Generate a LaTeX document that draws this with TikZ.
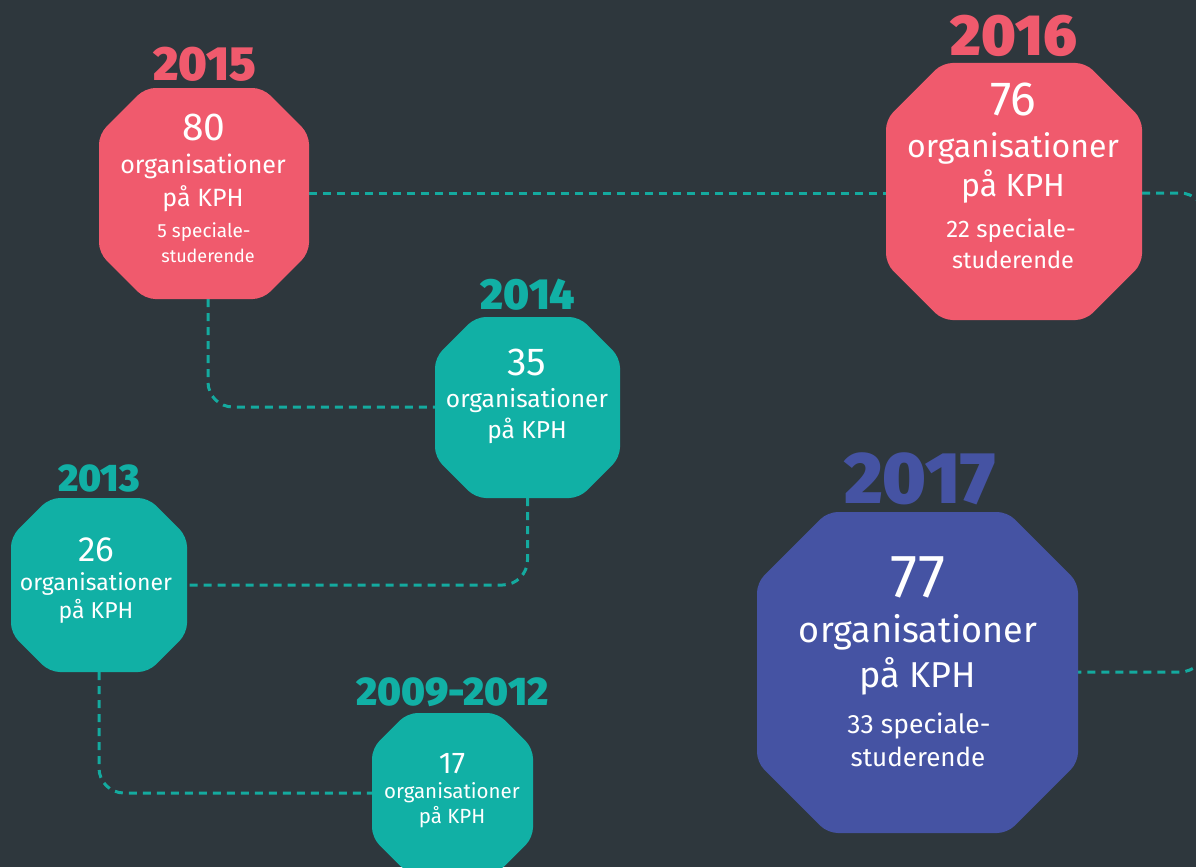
\documentclass[tikz,border=0pt]{standalone}
\usepackage{fontspec}
\setmainfont{Fira Sans}
\newfontfamily\yearfont{Fira Sans Black}
\usetikzlibrary{calc}
\definecolor{bgc}{HTML}{2E373D}
\definecolor{pinkc}{HTML}{F05A6D}
\definecolor{tealc}{HTML}{11B0A5}
\definecolor{linkc}{HTML}{14AA9F}
\definecolor{bluec}{HTML}{4553A3}
\pgfdeclarelayer{back}
\pgfdeclarelayer{links}
\pgfsetlayers{back,links,main}
\newcommand\octo[6]{%
  \node[minimum width=#4pt, minimum height=#5pt, inner sep=0pt, outer sep=0pt] (#1) at (#2,#3) {};
  \pgfmathsetmacro\cc{0.22*#4}
  \fill[#6, rounded corners=10pt] (#1.north) -- ([xshift=-\cc pt]#1.north east) -- ([yshift=-\cc pt]#1.north east) -- ([yshift=\cc pt]#1.south east) -- ([xshift=-\cc pt]#1.south east) -- ([xshift=\cc pt]#1.south west) -- ([yshift=\cc pt]#1.south west) -- ([yshift=-\cc pt]#1.north west) -- ([xshift=\cc pt]#1.north west) -- cycle;
}
\newcommand\fs[1]{\fontsize{#1}{#1}\selectfont}
\tikzset{
  txt/.style={text=white, inner sep=0pt, anchor=base},
  yr/.style={inner sep=0pt, anchor=base},
  link/.style={draw=linkc, line width=3pt, dash pattern=on 8pt off 6pt, rounded corners=25pt},
}
\begin{document}
\begin{tikzpicture}[x=1pt,y=-1pt]
\useasboundingbox (0,0) rectangle (1196,867);
\begin{pgfonlayer}{back}
\fill[bgc] (0,0) rectangle (1196,867);
\end{pgfonlayer}
\clip (0,0) rectangle (1196,867);

% octagons
\octo{n2015}{204}{193.5}{210}{211}{pinkc}
\octo{n2016}{1014}{191.5}{256}{257}{pinkc}
\octo{n2014}{527.5}{407.5}{185}{181}{tealc}
\octo{n2013}{99}{585}{176}{174}{tealc}
\octo{n2009}{452.5}{793}{161}{160}{tealc}
\octo{n2017}{917.5}{672.5}{321}{321}{bluec}

% connectors
\begin{pgfonlayer}{links}
\draw[link] (n2015.east |- 0,193) -- (n2016.west |- 0,193);
\draw[link] (n2016.east |- 0,193) -- (1205,193) -- (1205,672) -- (n2017.east |- 0,672);
\draw[link] (208,299) -- (208,407) -- (n2014.west |- 0,407);
\draw[link] (n2014.south) |- (n2013.east);
\draw[link] (n2013.south) |- (n2009.west);
\end{pgfonlayer}

% years
\node[yr, text=pinkc, font=\yearfont\fs{48}] (y2015) at (205,81) {2015};
\node[yr, text=pinkc, font=\yearfont\fs{58}] (y2016) at (1014,56) {2016};
\node[yr, text=tealc, font=\yearfont\fs{43.5}] (y2014) at (528,309) {2014};
\node[yr, text=tealc, font=\yearfont\fs{38.5}] (y2013) at (99,491) {2013};
\node[yr, text=tealc, font=\yearfont\fs{40}] (y2009) at (452.5,705) {2009-2012};
\node[yr, text=bluec, font=\yearfont\fs{73}] (y2017) at (920,503) {2017};

% 2015
\node[txt, font=\fs{39}] (a1) at (204,140) {80};
\node[txt, font=\fs{25}] (a2) at (203,173) {organisationer};
\node[txt, font=\fs{25}] (a3) at (203,206) {på KPH};
\node[txt, font=\fs{19}] (a4) at (204,237) {5 speciale-};
\node[txt, font=\fs{18}] (a5) at (208,262) {studerende};
% 2016
\node[txt, font=\fs{48}] (b1) at (1013,115) {76};
\node[txt, font=\fs{32}] (b2) at (1013,157) {organisationer};
\node[txt, font=\fs{32}] (b3) at (1013,196) {på KPH};
\node[txt, font=\fs{24}] (b4) at (1011,237) {22 speciale-};
\node[txt, font=\fs{23.5}] (b5) at (1013,268) {studerende};
% 2014
\node[txt, font=\fs{39}] (c1) at (527,375) {35};
\node[txt, font=\fs{24.5}] (c2) at (527,407) {organisationer};
\node[txt, font=\fs{24.5}] (c3) at (527,438) {på KPH};
% 2013
\node[txt, font=\fs{35}] (d1) at (96,561) {26};
\node[txt, font=\fs{23}] (d2) at (96,590) {organisationer};
\node[txt, font=\fs{23}] (d3) at (96,618) {på KPH};
% 2009-2012
\node[txt, font=\fs{30}] (e1) at (452,773) {17};
\node[txt, font=\fs{20.5}] (e2) at (452,798) {organisationer};
\node[txt, font=\fs{20.5}] (e3) at (452,823) {på KPH};
% 2017
\node[txt, font=\fs{61}] (f1) at (918,597) {77};
\node[txt, font=\fs{36}] (f2) at (918,642) {organisationer};
\node[txt, font=\fs{36}] (f3) at (918,687) {på KPH};
\node[txt, font=\fs{26.5}] (f4) at (919,733) {33 speciale-};
\node[txt, font=\fs{26}] (f5) at (918,766) {studerende};
\end{tikzpicture}
\end{document}
